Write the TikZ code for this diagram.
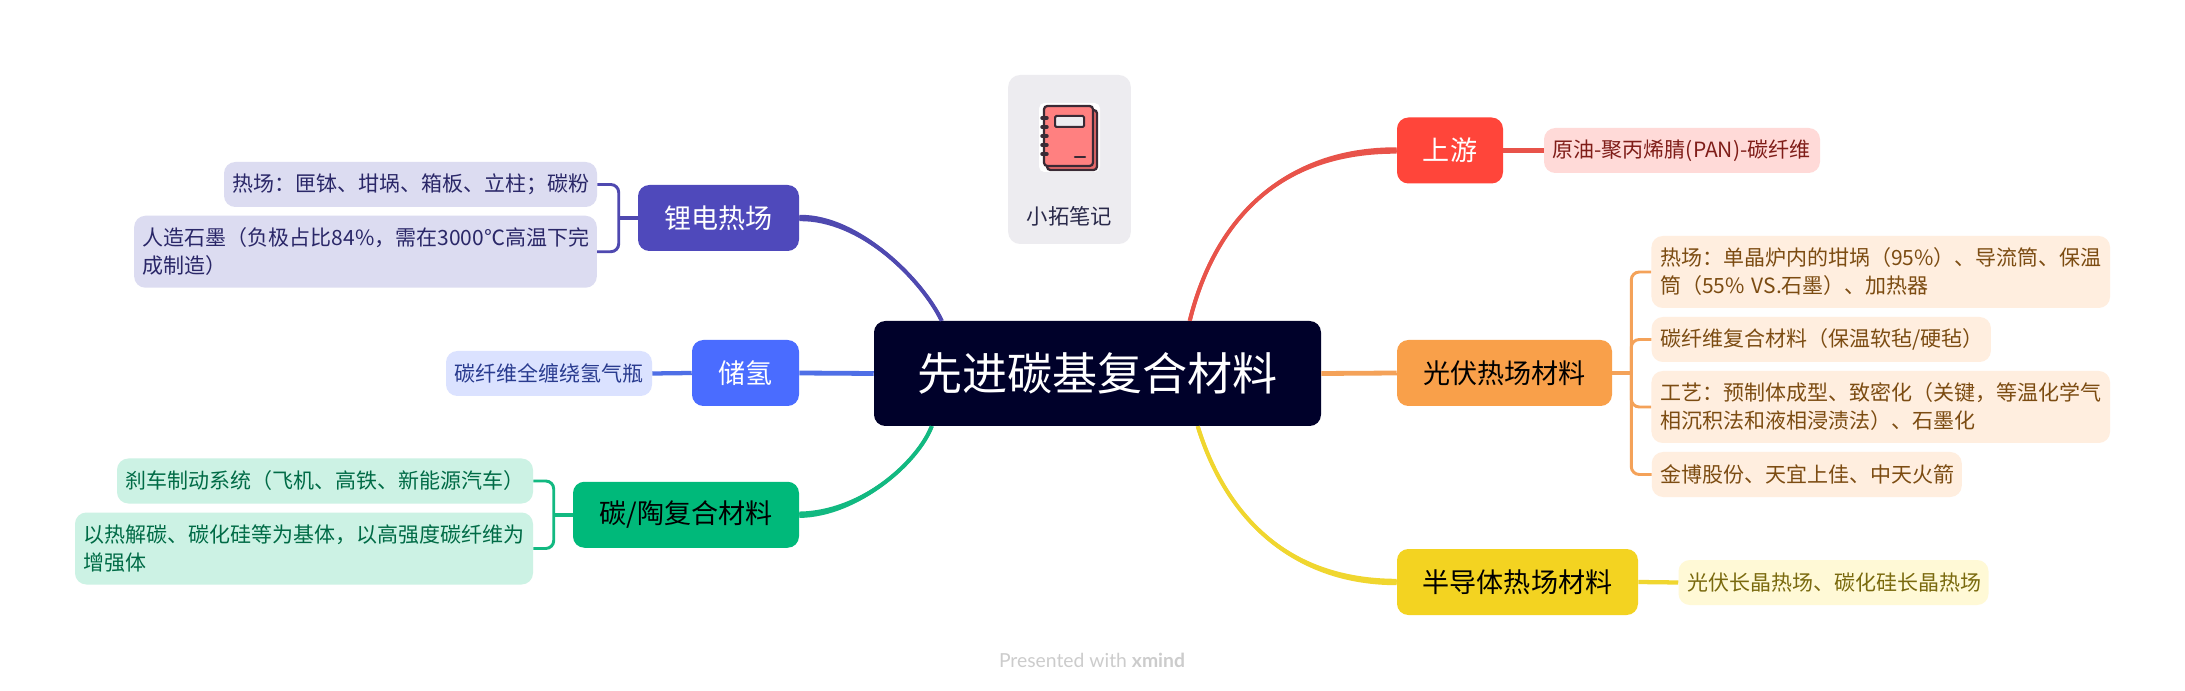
\documentclass[tikz,border=0pt]{standalone}
\usepackage{fontspec}
\setmainfont{Noto Sans CJK SC}
\newfontfamily\wmfont{Lato}
\usetikzlibrary{calc}
\definecolor{cCentral}{HTML}{00012A}
\definecolor{cRed}{HTML}{FF453A}\definecolor{cRedL}{HTML}{FFDAD8}\definecolor{cRedT}{HTML}{7F1D18}\definecolor{cRedC}{HTML}{E8534A}
\definecolor{cOr}{HTML}{F9A04A}\definecolor{cOrL}{HTML}{FFEEDF}\definecolor{cOrT}{HTML}{7C4C12}\definecolor{cOrC}{HTML}{F4A259}
\definecolor{cYe}{HTML}{F3D321}\definecolor{cYeL}{HTML}{FFF9D6}\definecolor{cYeT}{HTML}{7A6A0E}\definecolor{cYeC}{HTML}{F0D62F}
\definecolor{cGr}{HTML}{00B97A}\definecolor{cGrL}{HTML}{CCF2E4}\definecolor{cGrT}{HTML}{006B46}\definecolor{cGrC}{HTML}{12B981}
\definecolor{cBl}{HTML}{4A6CFF}\definecolor{cBlL}{HTML}{DBE2FF}\definecolor{cBlT}{HTML}{293B8F}\definecolor{cBlC}{HTML}{4F6FE6}
\definecolor{cIn}{HTML}{4F49BB}\definecolor{cInL}{HTML}{DCDCF1}\definecolor{cInT}{HTML}{2A2768}\definecolor{cInC}{HTML}{4F49B0}
\definecolor{cCard}{HTML}{EDECF0}\definecolor{cCardT}{HTML}{2A2A4A}
\definecolor{cInk}{HTML}{3A2A35}\definecolor{cCover}{HTML}{FF8080}\definecolor{cBack}{HTML}{E86A6A}
\tikzset{
  x=0.75pt,y=-0.75pt,
  central/.style={fill=cCentral,text=white,rounded corners=8.5pt,font=\fontsize{33.8}{40}\selectfont,inner sep=0pt,minimum width=335.25pt,minimum height=78.75pt},
  branch/.style={rounded corners=8.5pt,font=\fontsize{20.3}{26}\selectfont,inner sep=0pt,minimum height=49.5pt},
  leaf/.style={rounded corners=8.5pt,font=\fontsize{15.75}{21}\selectfont,inner sep=0pt,inner xsep=6.5pt,align=left,minimum height=33.75pt},
  tree/.style={line width=2.2pt,rounded corners=6pt},
  stem/.style={line width=3.2pt},
  icon/.style={draw=cInk,line width=1.7pt,rounded corners=2.5pt},
}
% tapered main connector: colour, branch anchor, root point, near control, far control, side
\newcommand{\taper}[6]{%
  \draw[#1,line width=3pt] (#2) .. controls #4 and #5 .. ($#3$);
  \fill[#1] ($(#2)+(0,-3.2)$) .. controls ($#4+(0,-3.2)$) and ($#5+(#6,0)$) .. ($#3+(#6,0)$)
     -- ($#3+(-#6,0)$) .. controls ($#5+(-#6,0)$) and ($#4+(0,3.2)$) .. ($(#2)+(0,3.2)$) -- cycle;}
\begin{document}
\begin{tikzpicture}
\useasboundingbox (0,0) rectangle (2185,691);
\fill[white] (0,0) rectangle (2185,691);

% note card
\node[fill=cCard,rounded corners=9pt,minimum width=92pt,minimum height=126.75pt,inner sep=0pt] (card) at (1069.5,159.5) {};
\node[font=\fontsize{16}{21}\selectfont,text=cCardT,inner sep=0pt] (cardtext) at (1069.5,216) {小拓笔记};
% notebook icon
\fill[white,rounded corners=4pt] (1039,103) rectangle (1100,172);
\draw[icon,fill=cBack] (1047,110) rectangle (1097,170);
\draw[icon,fill=cCover] (1044,106) rectangle (1093,166);
\draw[draw=cInk,line width=1.5pt,fill=cCard,rounded corners=1pt] (1055,116) rectangle (1084,127);
\draw[draw=cInk,line width=1.7pt,line cap=round] (1075,157) -- (1085,157);
\foreach \yy in {118,127,136,145,154} \draw[cInk,line width=2.6pt,line cap=round] (1042,\yy) -- (1047,\yy);

% nodes
\node[central] (root) at (1097.5,373.5) {先进碳基复合材料};

\node[branch,fill=cRed,text=white,minimum width=79.5pt] (up) at (1450,150.5) {上游};
\node[leaf,fill=cRedL,text=cRedT,text width=194pt] (upa) at (1682,150.5) {原油-聚丙烯腈(PAN)-碳纤维};

\node[branch,fill=cOr,text=black,minimum width=161.25pt] (pv) at (1504.5,373) {光伏热场材料};
\node[leaf,fill=cOrL,text=cOrT,text width=331pt,minimum height=54pt] (pva) at (1880.75,272) {热场：单晶炉内的坩埚（95\%）、导流筒、保温\\筒（55\% VS.石墨）、加热器};
\node[leaf,fill=cOrL,text=cOrT,text width=241.5pt] (pvb) at (1821.25,339.5) {碳纤维复合材料（保温软毡/硬毡）};
\node[leaf,fill=cOrL,text=cOrT,text width=331pt,minimum height=54pt] (pvc) at (1880.75,407) {工艺：预制体成型、致密化（关键，等温化学气\\相沉积法和液相浸渍法）、石墨化};
\node[leaf,fill=cOrL,text=cOrT,text width=219.5pt] (pvd) at (1806.75,474.5) {金博股份、天宜上佳、中天火箭};

\node[branch,fill=cYe,text=black,minimum width=180.75pt] (se) at (1517.5,582) {半导体热场材料};
\node[leaf,fill=cYeL,text=cYeT,text width=219.5pt] (sea) at (1833.5,582.5) {光伏长晶热场、碳化硅长晶热场};

\node[branch,fill=cIn,text=white,minimum width=120.75pt] (li) at (718.5,218) {锂电热场};
\node[leaf,fill=cInL,text=cInT,text width=266.75pt] (lia) at (410.5,184.5) {热场：匣钵、坩埚、箱板、立柱；碳粉};
\node[leaf,fill=cInL,text=cInT,text width=334pt,minimum height=54pt] (lib) at (365.5,251.75) {人造石墨（负极占比84\%，需在3000℃高温下完\\成制造）};

\node[branch,fill=cBl,text=white,minimum width=80.25pt] (h2) at (745.5,373) {储氢};
\node[leaf,fill=cBlL,text=cBlT,text width=141.5pt] (h2a) at (549,373.5) {碳纤维全缠绕氢气瓶};

\node[branch,fill=cGr,text=black,minimum width=169.5pt] (cc) at (686,514.75) {碳/陶复合材料};
\node[leaf,fill=cGrL,text=cGrT,text width=299pt] (cca) at (325,481) {刹车制动系统（飞机、高铁、新能源汽车）};
\node[leaf,fill=cGrL,text=cGrT,text width=330.5pt,minimum height=54pt] (ccb) at (304,548.5) {以热解碳、碳化硅等为基体，以高强度碳纤维为\\增强体};

% connectors root -> branch
\taper{cRedC}{up.west}{(root.north west)+(316,0)}{(1286,150)}{(1216,215)}{-2}
\taper{cYeC}{se.west}{(root.south west)+(324,0)}{(1286,582)}{(1224,512)}{2}
\taper{cInC}{li.east}{(root.north west)+(68,0)}{(860,217)}{(922,280)}{2}
\taper{cGrC}{cc.east}{(root.south west)+(58,0)}{(860,514)}{(918,462)}{-2}
\draw[cOrC,line width=3.6pt] (root.east) -- (pv.west);
\draw[cBlC,line width=3.6pt] (root.west) -- (h2.east);

% connectors branch -> leaf
\draw[cRedC,stem] (up.east) -- (upa.west);
\draw[cYeC,stem] (se.east) -- (sea.west);
\draw[cBlC,stem] (h2.west) -- (h2a.east);
\coordinate (pvt) at ($(pv.east)+(19,0)$);
\draw[cOrC,stem] (pv.east) -- (pvt);
\draw[cOrC,tree] (pva.west) -| (pvt) |- (pvd.west);
\draw[cOrC,tree] (pvb.west) -| (pvt);
\draw[cOrC,tree] (pvc.west) -| (pvt);
\coordinate (lit) at ($(li.west)+(-19,0)$);
\draw[cInC,stem] (li.west) -- (lit);
\draw[cInC,tree] (lia.east) -| (lit) |- (lib.east);
\coordinate (cct) at ($(cc.west)+(-19,0)$);
\draw[cGrC,stem] (cc.west) -- (cct);
\draw[cGrC,tree] (cca.east) -| (cct) |- (ccb.east);

% watermark
\node[inner sep=0pt,text=black!20,font=\wmfont\fontsize{14.5}{18}\selectfont] (wm) at (1092,660) {Presented with \textbf{xmind}};
\end{tikzpicture}
\end{document}
